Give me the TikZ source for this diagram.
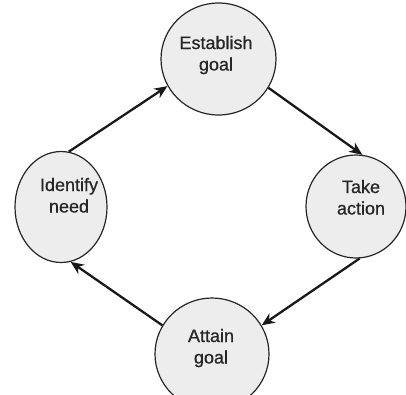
\documentclass[tikz,border=0pt]{standalone}
\usepackage{fontspec}
\newfontfamily\stagefont[FakeBold=0.7]{Liberation Sans}
\usetikzlibrary{shapes.geometric,arrows.meta}
\begin{document}
\begin{tikzpicture}[x=1pt,y=-1pt,
  stage/.style={ellipse,draw=black!85,line width=1.2pt,fill=black!7,inner sep=0pt},
  caption/.style={align=center,font=\stagefont\fontsize{18}{21.5}\selectfont,text=black!85,
    text height=13pt,text depth=4pt,inner sep=0pt},
  flow/.style={line width=2.3pt,draw=black!90,
    -{Stealth[length=13pt,width=11pt,inset=4pt]}}]
\useasboundingbox (0,0) rectangle (406,394);

% the four stages of the cycle
\node[stage,minimum width=115pt,minimum height=112pt] (establish) at (218.5,59) {};
\node[stage,minimum width=100pt,minimum height=103pt] (action) at (356,206.5) {};
\node[stage,minimum width=114pt,minimum height=112pt] (attain) at (212,354) {};
\node[stage,minimum width=92pt,minimum height=111pt] (need) at (61,207) {};

% stage captions
\node[caption] (establishT) at (216,66) {Establish\\goal};
\node[caption] (actionT) at (361,210) {Take\\action};
\node[caption] (attainT) at (211,359) {Attain\\goal};
\node[caption] (needT) at (69,208) {Identify\\need};

% arrows going clockwise round the cycle
\draw[flow] (need.82) -- (establish.208);
\draw[flow] (establish.330) -- (action.83);
\draw[flow] (action.274) -- (attain.30);
\draw[flow] (attain.150) -- (need.280);
\end{tikzpicture}
\end{document}
